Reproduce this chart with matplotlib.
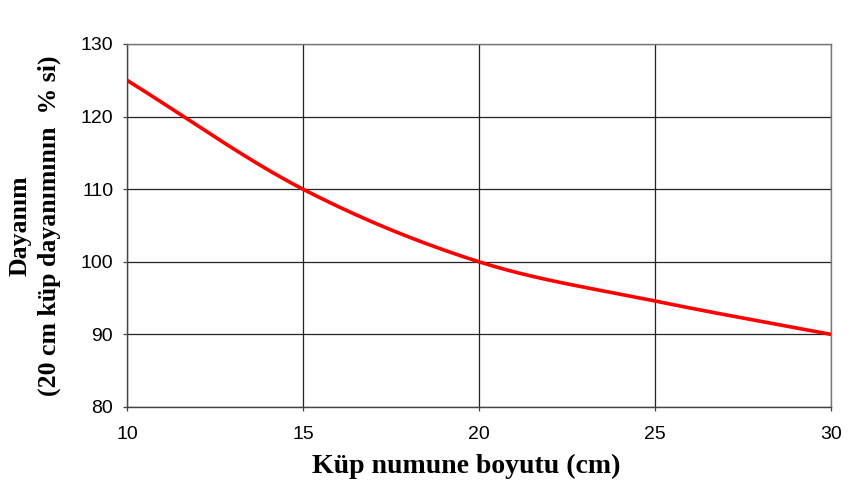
import numpy as np
import matplotlib.pyplot as plt

# data
boyut = [10, 15, 20, 25, 30]
dayanim = [125, 110, 100, 94.6, 90]
x_ticks = [10, 15, 20, 25, 30]
y_ticks = [80, 90, 100, 110, 120, 130]


def smooth_line(xs, ys, n=40):
    # catmull-rom style smoothing, like a spreadsheet "smoothed line"
    xs = np.asarray(xs, float)
    ys = np.asarray(ys, float)
    px = np.concatenate([[2 * xs[0] - xs[1]], xs, [2 * xs[-1] - xs[-2]]])
    py = np.concatenate([[2 * ys[0] - ys[1]], ys, [2 * ys[-1] - ys[-2]]])
    outx, outy = [], []
    t = np.linspace(0, 1, n)
    for i in range(1, len(px) - 2):
        for p, out in ((px, outx), (py, outy)):
            p0, p1, p2, p3 = p[i - 1], p[i], p[i + 1], p[i + 2]
            out.extend(0.5 * ((2 * p1) + (-p0 + p2) * t
                              + (2 * p0 - 5 * p1 + 4 * p2 - p3) * t ** 2
                              + (-p0 + 3 * p1 - 3 * p2 + p3) * t ** 3))
    return outx, outy


fig = plt.figure(figsize=(8.67, 4.97), dpi=100)
ax = fig.add_axes([0.1465, 0.1811, 0.812, 0.7304])

sx, sy = smooth_line(boyut, dayanim)
ax.plot(sx, sy, color='#ff0000', linewidth=2.6, solid_capstyle='butt', zorder=3)

ax.set_xlim(10, 30)
ax.set_ylim(80, 130)
ax.set_xticks(x_ticks)
ax.set_yticks(y_ticks)
ax.grid(True, color='#222222', linewidth=0.9)
ax.set_axisbelow(True)
for s in ax.spines.values():
    s.set_color('#777777')
    s.set_linewidth(1.0)
ax.spines['left'].set_color('#444444')
ax.spines['bottom'].set_color('#444444')
ax.tick_params(direction='out', length=3, width=0.9, color='#444444',
               labelsize=14)
ax.tick_params(axis='x', pad=11)
ax.tick_params(axis='y', pad=7)
for lab in ax.get_xticklabels() + ax.get_yticklabels():
    lab.set_fontfamily('Liberation Sans')

ax.set_xlabel('Küp numune boyutu (cm)', fontfamily='Liberation Serif',
              fontweight='bold', fontsize=20, va='center')
ax.xaxis.set_label_coords(0.4815, -0.1625)
ax.set_ylabel('Dayanım\n(20 cm küp dayanımının  % si)', fontfamily='Liberation Serif',
              fontweight='bold', fontsize=18.5, linespacing=1.35, va='center')
ax.yaxis.set_label_coords(-0.131, 0.5)

plt.savefig('out.png', dpi=100)
